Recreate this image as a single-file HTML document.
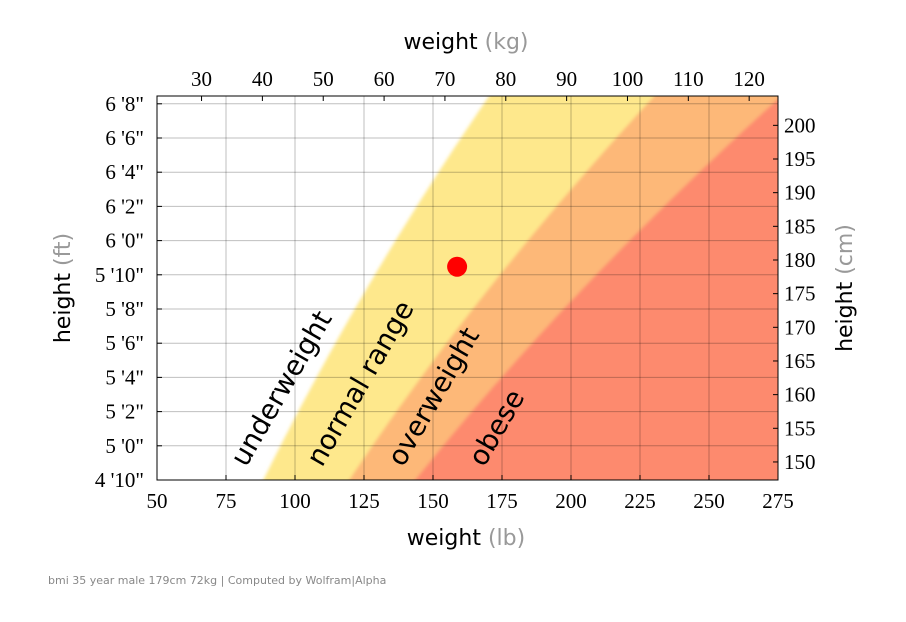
<!DOCTYPE html>
<html><head><meta charset="utf-8"><style>
body{margin:0;background:#fff;width:906px;height:622px;overflow:hidden}
svg{display:block}
.tk{font-family:"Liberation Serif",serif;font-size:21px;fill:#000}
.ttl{font-family:"DejaVu Sans",sans-serif;font-size:22px;fill:#000}
.unit{fill:#999}
.lbl{font-family:"DejaVu Sans",sans-serif;font-size:27.5px;fill:#000}
</style></head><body>
<svg id="c" width="906" height="622">
<defs><filter id="bl" x="-5%" y="-5%" width="110%" height="110%"><feGaussianBlur stdDeviation="1.5"/></filter>
<clipPath id="cp"><rect x="157" y="96" width="621" height="384"/></clipPath></defs>
<g id="bands" clip-path="url(#cp)" filter="url(#bl)"></g>
<g id="grid" clip-path="url(#cp)"></g>
<g id="ax"></g>
<text x="48" y="584" font-family="DejaVu Sans,sans-serif" font-size="11" fill="#888">bmi 35 year male 179cm 72kg | Computed by Wolfram|Alpha</text>
</svg>
<script>
const bmiThresholds=[18.5,25,30];
const bandColors=["#fee88c","#fdb878","#fd8a6e"];
const bandNames=["underweight","normal range","overweight","obese"];
const lbTicks=[50,75,100,125,150,175,200,225,250,275];
const kgTicks=[30,40,50,60,70,80,90,100,110,120];
const inTicks=[58,60,62,64,66,68,70,72,74,76,78,80];
const cmTicks=[150,155,160,165,170,175,180,185,190,195,200];
const pointKg=[72];
const pointCm=[179];

const X0=157,X1=778,Y0=480,Y1=96;
const lbMin=50,lbMax=275,inMin=58,inMax=58+(Y0-Y1)/17.1;
const xs=lb=>X0+(lb-lbMin)/(lbMax-lbMin)*(X1-X0);
const ys=i=>Y0-(i-inMin)/(inMax-inMin)*(Y0-Y1);
const NS="http://www.w3.org/2000/svg";
function mk(t,a,p){const e=document.createElementNS(NS,t);for(const k in a)e.setAttribute(k,a[k]);p.appendChild(e);return e;}
const bands=document.getElementById('bands'),grid=document.getElementById('grid'),ax=document.getElementById('ax');

bmiThresholds.forEach((b,k)=>{
  let pts=[];
  for(let h=inMin-1;h<=inMax+1;h+=0.25){pts.push(xs(b*h*h/703).toFixed(1)+","+ys(h).toFixed(1));}
  pts.push("1000,"+ys(inMax+1),"1000,"+ys(inMin-1));
  const p=mk('polygon',{points:pts.join(" "),fill:bandColors[k]},bands);
  
  
});
lbTicks.forEach(v=>{const l=mk('line',{x1:xs(v),x2:xs(v),y1:Y1,y2:Y0,stroke:"rgba(0,0,0,0.25)","stroke-width":1},grid);
});
inTicks.forEach(v=>{const l=mk('line',{x1:X0,x2:X1,y1:ys(v),y2:ys(v),stroke:"rgba(0,0,0,0.25)","stroke-width":1},grid);
});

const fr=mk('rect',{x:X0,y:Y1,width:X1-X0,height:Y0-Y1,fill:"none",stroke:"#000","stroke-width":1},ax);


lbTicks.forEach(v=>{mk('line',{x1:xs(v),x2:xs(v),y1:Y0,y2:Y0-5,stroke:"#000"},ax);
const t=mk('text',{x:xs(v),y:Y0+28,"text-anchor":"middle",class:"tk"},ax);t.textContent=v;
});
kgTicks.forEach(v=>{const x=xs(v*2.20462);mk('line',{x1:x,x2:x,y1:Y1,y2:Y1+5,stroke:"#000"},ax);
const t=mk('text',{x:x,y:Y1-10,"text-anchor":"middle",class:"tk"},ax);t.textContent=v;
});
inTicks.forEach(v=>{const y=ys(v);mk('line',{x1:X0,x2:X0+5,y1:y,y2:y,stroke:"#000"},ax);
const t=mk('text',{x:X0-13,y:y+7,"text-anchor":"end",class:"tk"},ax);t.textContent=Math.floor(v/12)+" '"+(v%12)+'"';
});
cmTicks.forEach(v=>{const y=ys(v/2.54);mk('line',{x1:X1,x2:X1-5,y1:y,y2:y,stroke:"#000"},ax);
const t=mk('text',{x:X1+6,y:y+7,class:"tk"},ax);t.textContent=v;
});

pointKg.forEach((kg,i)=>{const c=mk('circle',{cx:xs(kg*2.20462),cy:ys(pointCm[i]/2.54),r:10,fill:"#f00"},ax);
});

const lblPos=[[246,468],[322,468],[403,468],[484,468]];
bandNames.forEach((n,i)=>{const t=mk('text',{x:lblPos[i][0],y:lblPos[i][1],class:"lbl",transform:`rotate(-60 ${lblPos[i][0]} ${lblPos[i][1]})`},ax);
t.textContent=n;});

function title(x,y,a,b,rot,name){const t=mk('text',{x:x,y:y,"text-anchor":"middle",class:"ttl"},ax);
if(rot)t.setAttribute('transform',`rotate(-90 ${x} ${y})`);
t.innerHTML=a+' <tspan class="unit">'+b+'</tspan>';}
title(466,49,"weight","(kg)",0,"top-axis-title");
title(466,545,"weight","(lb)",0,"x-axis-title");
title(70,288,"height","(ft)",1,"y-axis-title");
title(852,288,"height","(cm)",1,"right-axis-title");
</script>
</body></html>
